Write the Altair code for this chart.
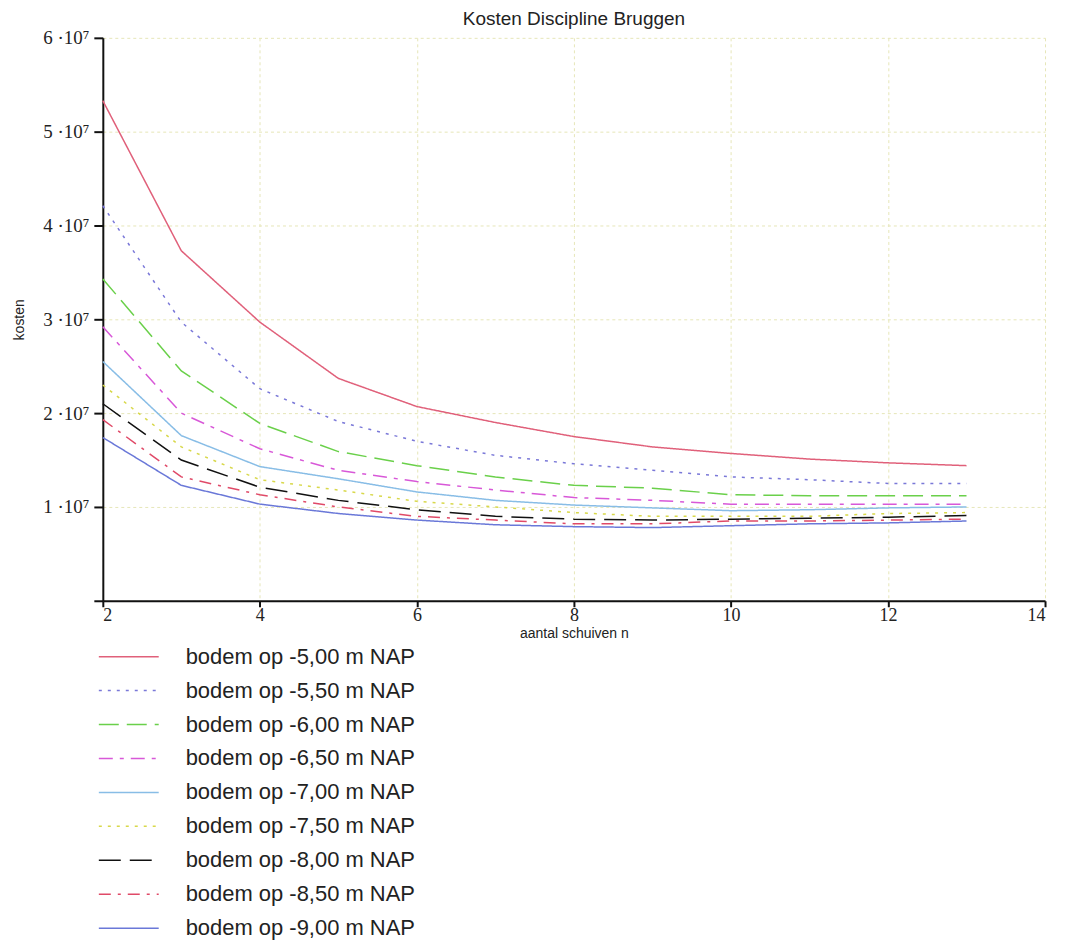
import altair as alt
import pandas as pd

n_values = [2, 3, 4, 5, 6, 7, 8, 9, 10, 11, 12, 13]

series_labels = [
    "bodem op -5,00 m NAP",
    "bodem op -5,50 m NAP",
    "bodem op -6,00 m NAP",
    "bodem op -6,50 m NAP",
    "bodem op -7,00 m NAP",
    "bodem op -7,50 m NAP",
    "bodem op -8,00 m NAP",
    "bodem op -8,50 m NAP",
    "bodem op -9,00 m NAP",
]

# kosten in units of 1e7
k_500 = [5.33, 3.73, 2.97, 2.37, 2.07, 1.90, 1.75, 1.64, 1.57, 1.51, 1.47, 1.44]
k_550 = [4.21, 2.97, 2.26, 1.91, 1.70, 1.55, 1.46, 1.39, 1.32, 1.29, 1.25, 1.25]
k_600 = [3.43, 2.45, 1.89, 1.59, 1.44, 1.32, 1.23, 1.20, 1.13, 1.12, 1.12, 1.12]
k_650 = [2.92, 2.00, 1.62, 1.39, 1.27, 1.18, 1.10, 1.07, 1.03, 1.03, 1.03, 1.03]
k_700 = [2.55, 1.76, 1.43, 1.30, 1.16, 1.07, 1.02, 0.99, 0.96, 0.97, 0.99, 1.00]
k_750 = [2.30, 1.64, 1.29, 1.18, 1.06, 1.00, 0.94, 0.90, 0.90, 0.90, 0.93, 0.94]
k_800 = [2.10, 1.50, 1.21, 1.07, 0.97, 0.90, 0.87, 0.86, 0.87, 0.88, 0.89, 0.91]
k_850 = [1.93, 1.32, 1.13, 1.00, 0.90, 0.86, 0.82, 0.82, 0.85, 0.85, 0.86, 0.87]
k_900 = [1.74, 1.23, 1.03, 0.93, 0.86, 0.81, 0.79, 0.78, 0.80, 0.82, 0.83, 0.85]

all_series = [k_500, k_550, k_600, k_650, k_700, k_750, k_800, k_850, k_900]

colors = ["#e0607a", "#7a78d8", "#6ad04a", "#d858d8", "#88bde6",
          "#d8d84a", "#111111", "#e04a68", "#6a78d8"]
dashes = [[1, 0], [3, 6], [20, 8], [14, 7, 4, 7], [1, 0],
          [3, 6], [22, 9], [12, 7, 3, 7], [1, 0]]

x_ticks = [2, 4, 6, 8, 10, 12, 14]
y_ticks = [0, 1e7, 2e7, 3e7, 4e7, 5e7, 6e7]

rows = []
for lab, vals in zip(series_labels, all_series):
    for n, v in zip(n_values, vals):
        rows.append({"n": n, "kosten": v * 1e7, "serie": lab})
df = pd.DataFrame(rows)

legend = alt.Legend(
    orient="none", legendX=-5, legendY=603, title=None,
    symbolType="stroke", symbolSize=3600, symbolStrokeWidth=1.5,
    labelFont="Liberation Sans", labelFontSize=22, labelColor="#222222",
    labelOffset=26, rowPadding=0, clipHeight=34, padding=0, labelLimit=400,
)

chart = alt.Chart(df).mark_line(strokeWidth=1.5).encode(
    x=alt.X("n:Q",
            scale=alt.Scale(domain=[2, 14], nice=False, zero=False),
            axis=alt.Axis(values=x_ticks, title="aantal schuiven n",
                          grid=True, tickSize=6, titlePadding=2,
                          labelFont="Liberation Serif", labelFontSize=18,
                          labelPadding=0)),
    y=alt.Y("kosten:Q",
            scale=alt.Scale(domain=[0, 6e7], nice=False),
            axis=alt.Axis(values=y_ticks, title="kosten", grid=True,
                          tickSize=9,
                          labelExpr="datum.value == 0 ? '' : format(datum.value / 1e7, 'd') + ' ·10⁷'",
                          labelFont="Liberation Serif", labelFontSize=19,
                          labelPadding=5,
                          titleX=-76, titleY=282)),
    color=alt.Color("serie:N", sort=series_labels,
                    scale=alt.Scale(domain=series_labels, range=colors),
                    legend=legend),
    strokeDash=alt.StrokeDash("serie:N", sort=series_labels,
                              scale=alt.Scale(domain=series_labels, range=dashes),
                              legend=legend),
    order=alt.Order("n:Q"),
).properties(
    width=944, height=564,
    title=alt.TitleParams("Kosten Discipline Bruggen", font="Liberation Sans",
                          fontSize=19, fontWeight="normal", color="#222222",
                          anchor="middle", offset=0),
    autosize=alt.AutoSizeParams(type="none"),
    padding={"left": 95, "top": 29, "right": 12, "bottom": 345},
).configure_view(
    stroke=None
).configure_axis(
    domainColor="#111111", domainWidth=2,
    tickColor="#111111", tickWidth=2,
    labelColor="#222222",
    titleFont="Liberation Sans", titleFontSize=14, titleFontWeight="normal",
    titleColor="#222222",
    gridColor="#e6e6b8", gridDash=[3, 3], gridWidth=1,
)

chart.save("out.html", embed_options={"renderer": "svg", "actions": False})
